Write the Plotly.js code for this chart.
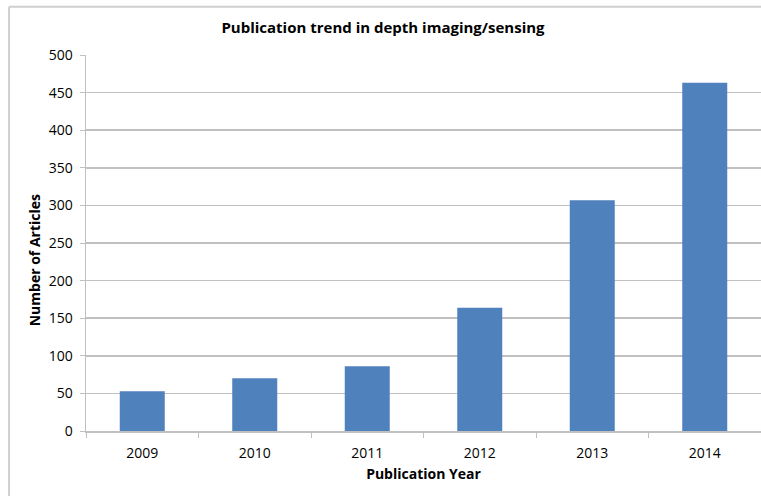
<!DOCTYPE html>
<html>
<head>
<meta charset="utf-8">
<script src="https://cdn.plot.ly/plotly-3.0.1.min.js"></script>
<style>html,body{margin:0;padding:0;background:#fff;}#chart{width:761px;height:496px;}</style>
</head>
<body>
<div id="chart"></div>
<script>
const years = ['2009', '2010', '2011', '2012', '2013', '2014'];
const articles = [53, 70, 86, 164, 307, 463];
const yTicks = [0, 50, 100, 150, 200, 250, 300, 350, 400, 450, 500];

const font = 'Open Sans, Liberation Sans, sans-serif';
const grid = '#c0c0c0';

const trace = {
  type: 'bar',
  x: years,
  y: articles,
  marker: {color: '#4f81bd', line: {width: 0}},
  hoverinfo: 'x+y'
};

const layout = {
  width: 761, height: 496,
  margin: {l: 86, r: 0, t: 55, b: 65},
  paper_bgcolor: '#ffffff',
  plot_bgcolor: '#ffffff',
  showlegend: false,
  bargap: 0.6,
  font: {family: font, size: 14, color: '#000'},
  title: {
    text: '<b>Publication trend in depth imaging/sensing</b>',
    font: {family: font, size: 15, color: '#000'},
    x: 0.44, xref: 'paper', xanchor: 'center',
    y: 30, yref: 'container', yanchor: 'middle'
  },
  xaxis: {
    type: 'category',
    tickson: 'boundaries',
    ticks: 'outside', ticklen: 5, tickcolor: grid, tickwidth: 1,
    ticklabelstandoff: 9,
    showline: true, linecolor: grid, linewidth: 1.5,
    showgrid: false, zeroline: false,
    tickfont: {family: font, size: 14, color: '#000'},
    title: {text: '<b>Publication Year</b>', font: {family: font, size: 14, color: '#000'}, standoff: 8}
  },
  yaxis: {
    range: [0, 500],
    tickvals: yTicks,
    ticktext: yTicks.map(String),
    ticks: 'outside', ticklen: 5, tickcolor: grid, tickwidth: 1,
    ticklabelstandoff: 4,
    showline: true, linecolor: grid, linewidth: 1.5,
    showgrid: true, gridcolor: grid, gridwidth: 1.5,
    zeroline: false,
    tickfont: {family: font, size: 14, color: '#000'}
  },
  annotations: [{
    text: '<b>Number of Articles</b>',
    textangle: -90,
    font: {family: font, size: 14, color: '#000'},
    xref: 'paper', yref: 'paper',
    x: -0.075, y: 0.455,
    xanchor: 'center', yanchor: 'middle',
    showarrow: false
  }],
  shapes: [
    {type: 'line', xref: 'paper', yref: 'paper', x0: -0.114, x1: -0.114, y0: 1.128, y1: -0.2, line: {color: '#cfcfcf', width: 2}},
    {type: 'line', xref: 'paper', yref: 'paper', x0: -0.114, x1: 1.0, y0: 1.128, y1: 1.128, line: {color: '#cfcfcf', width: 2}}
  ]
};

Plotly.newPlot('chart', [trace], layout, {displayModeBar: false, staticPlot: true});
</script>
</body>
</html>
